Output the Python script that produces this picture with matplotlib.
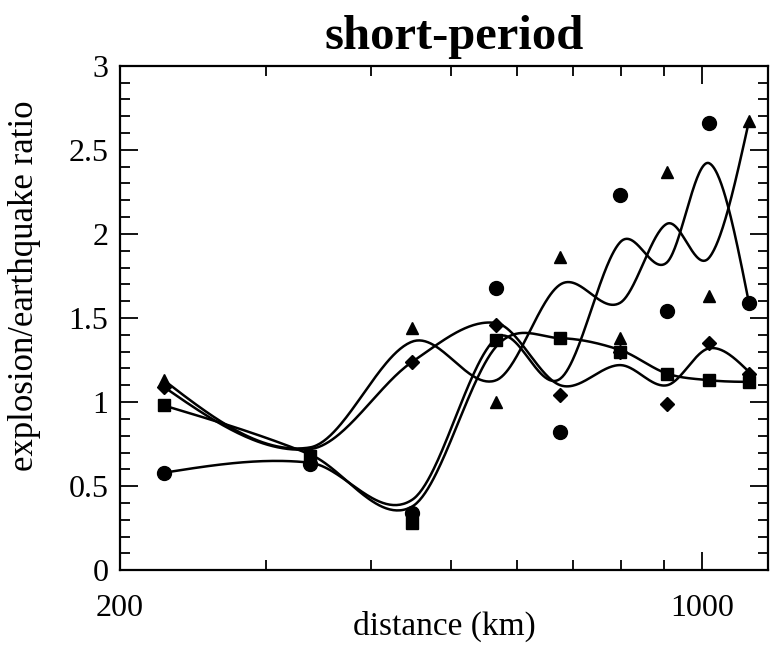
import numpy as np
import matplotlib
matplotlib.use("Agg")
import matplotlib.pyplot as plt
from matplotlib.ticker import FixedLocator, FixedFormatter, NullFormatter, MultipleLocator

plt.rcParams['font.family'] = ['Liberation Serif', 'DejaVu Serif']

# station distances (km)
distance = [226, 338, 449, 566, 676, 797, 907, 1020, 1138]

# measured ratios, one list per symbol
circle_pts = [0.58, 0.63, 0.34, 1.68, 0.82, 2.23, 1.54, 2.66, 1.59]
triangle_pts = [1.13, 0.70, 1.44, 1.00, 1.86, 1.38, 2.37, 1.63, 2.67]
square_pts = [0.98, 0.68, 0.28, 1.37, 1.38, 1.30, 1.17, 1.13, 1.12]
diamond_pts = [1.09, 0.64, 1.24, 1.46, 1.04, 1.30, 0.99, 1.35, 1.17]

# smoothed curve values at the same stations
circle_fit = [0.58, 0.64, 0.42, 1.38, 1.14, 1.95, 1.83, 2.42, 1.59]
triangle_fit = [1.13, 0.73, 1.36, 1.13, 1.70, 1.59, 2.06, 1.86, 2.67]
square_fit = [0.98, 0.69, 0.38, 1.33, 1.38, 1.31, 1.17, 1.13, 1.12]
diamond_fit = [1.09, 0.72, 1.24, 1.47, 1.10, 1.22, 1.10, 1.32, 1.18]


def smooth_curve(x, y, n=60):
    # cubic hermite (catmull-rom style slopes) in log10(distance)
    u = np.log10(np.asarray(x, float))
    y = np.asarray(y, float)
    k = len(u)
    m = np.zeros(k)
    m[1:-1] = (y[2:] - y[:-2]) / (u[2:] - u[:-2])
    h = np.diff(u)
    m[0] = 1.5 * (y[1] - y[0]) / h[0] - 0.5 * m[1]
    m[-1] = 1.5 * (y[-1] - y[-2]) / h[-1] - 0.5 * m[-2]
    xs, ys = [], []
    for i in range(k - 1):
        t = np.linspace(0, 1, n)
        h00 = 2 * t**3 - 3 * t**2 + 1
        h10 = t**3 - 2 * t**2 + t
        h01 = -2 * t**3 + 3 * t**2
        h11 = t**3 - t**2
        seg = h00 * y[i] + h10 * h[i] * m[i] + h01 * y[i + 1] + h11 * h[i] * m[i + 1]
        xs.append(10**(u[i] + t * h[i]))
        ys.append(seg)
    return np.concatenate(xs), np.concatenate(ys)


fig = plt.figure(figsize=(7.72, 6.51), dpi=100)
ax = fig.add_axes([0.155, 0.124, 0.84, 0.775])

series = [
    (circle_pts, circle_fit, 'o', 10),
    (triangle_pts, triangle_fit, '^', 9),
    (square_pts, square_fit, 's', 8.5),
    (diamond_pts, diamond_fit, 'D', 7),
]
for pts, fit, m, ms in series:
    xs, ys = smooth_curve(distance, fit)
    ax.plot(xs, ys, color='black', lw=1.8)
    ax.plot(distance, pts, linestyle='none', marker=m, ms=ms, color='black')

ax.set_xscale('log')
ax.set_xlim(200, 1200)
ax.set_ylim(0, 3)

ax.xaxis.set_major_locator(FixedLocator([200, 1000]))
ax.xaxis.set_major_formatter(FixedFormatter(['200', '1000']))
ax.xaxis.set_minor_locator(FixedLocator([300, 400, 500, 600, 700, 800, 900]))
ax.xaxis.set_minor_formatter(NullFormatter())
ax.yaxis.set_major_locator(FixedLocator([0, 0.5, 1, 1.5, 2, 2.5, 3]))
ax.yaxis.set_major_formatter(FixedFormatter(['0', '0.5', '1', '1.5', '2', '2.5', '3']))
ax.yaxis.set_minor_locator(MultipleLocator(0.1))

ax.tick_params(which='both', direction='in', top=True, right=True, width=1.3, labelsize=23)
ax.tick_params(which='major', length=13)
ax.tick_params(which='minor', length=7)
ax.tick_params(axis='x', which='major', pad=17)
ax.tick_params(axis='y', which='major', pad=8)
for s in ax.spines.values():
    s.set_linewidth(1.6)

ax.set_xlabel('distance (km)', fontsize=24, labelpad=-9)
ax.set_ylabel('explosion/earthquake ratio', fontsize=25)
ax.yaxis.set_label_coords(-0.122, 0.565)
ax.set_title('short-period', fontsize=35, fontweight='bold', pad=12, x=0.515)

fig.savefig('out.png', dpi=100)
